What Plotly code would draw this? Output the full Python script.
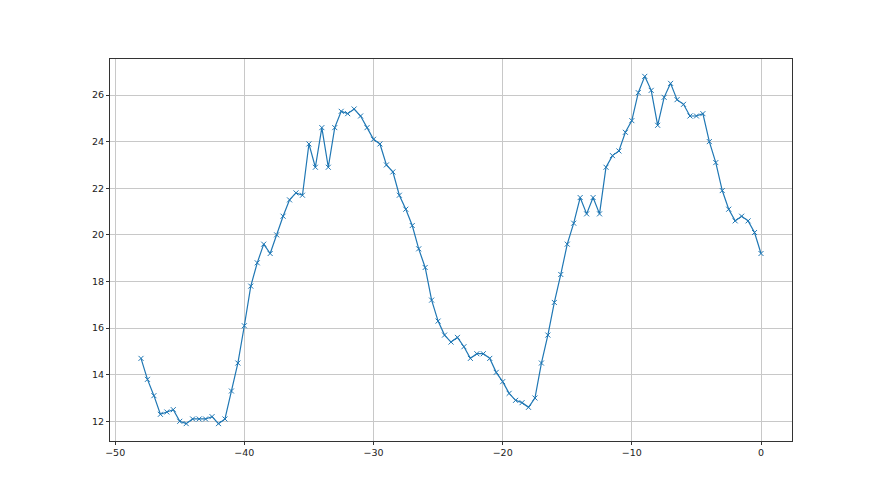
import numpy as np
import plotly.graph_objects as go

x_vals = [i * 0.5 for i in range(-96, 1)]
y_vals = [
    14.7, 13.8, 13.1, 12.3, 12.4, 12.5, 12.0, 11.9, 12.1, 12.1,
    12.1, 12.2, 11.9, 12.1, 13.3, 14.5, 16.1, 17.8, 18.8, 19.6,
    19.2, 20.0, 20.8, 21.5, 21.8, 21.7, 23.9, 22.9, 24.6, 22.9,
    24.6, 25.3, 25.2, 25.4, 25.1, 24.6, 24.1, 23.9, 23.0, 22.7,
    21.7, 21.1, 20.4, 19.4, 18.6, 17.2, 16.3, 15.7, 15.4, 15.6,
    15.2, 14.7, 14.9, 14.9, 14.7, 14.1, 13.7, 13.2, 12.9, 12.8,
    12.6, 13.0, 14.5, 15.7, 17.1, 18.3, 19.6, 20.5, 21.6, 20.9,
    21.6, 20.9, 22.9, 23.4, 23.6, 24.4, 24.9, 26.1, 26.8, 26.2,
    24.7, 25.9, 26.5, 25.8, 25.6, 25.1, 25.1, 25.2, 24.0, 23.1,
    21.9, 21.1, 20.6, 20.8, 20.6, 20.1, 19.2,
]
x_ticks = [-50, -40, -30, -20, -10, 0]
y_ticks = [12, 14, 16, 18, 20, 22, 24, 26]

fig = go.Figure()
fig.add_trace(go.Scatter(
    x=x_vals, y=y_vals, mode="lines+markers",
    line=dict(color="#1f77b4", width=1.2),
    marker=dict(symbol="x-thin", size=5, line=dict(color="#1f77b4", width=1)),
    showlegend=False,
))

axis_common = dict(
    showgrid=True, gridcolor="#c8c8c8", gridwidth=1,
    showline=True, linecolor="#333333", linewidth=1, mirror=True,
    ticks="outside", ticklen=3, tickcolor="#333333", tickwidth=1,
    zeroline=False, tickfont=dict(family="DejaVu Sans", size=9.5, color="#222222"),
)
fig.update_xaxes(range=[-50.4, 2.4], tickvals=x_ticks, **axis_common)
fig.update_yaxes(range=[11.155, 27.545], tickvals=y_ticks, **axis_common)

fig.update_layout(
    width=880, height=495,
    margin=dict(l=102, r=96, t=51, b=62),
    plot_bgcolor="white", paper_bgcolor="white",
    font=dict(family="DejaVu Sans", size=9.5, color="#222222"),
)
fig.write_html("out.html")
